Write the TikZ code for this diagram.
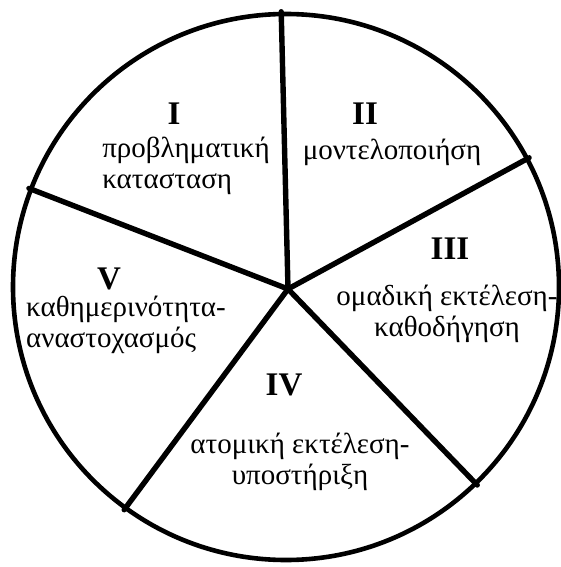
\documentclass[tikz,border=0pt]{standalone}
\usepackage{fontspec}
\setmainfont{Liberation Serif}
\usepackage{tikz}
\usetikzlibrary{positioning}

\begin{document}
\begin{tikzpicture}[
    x=1pt, y=-1pt,
    rim/.style={circle, draw, line width=4.6pt, minimum size=546pt, inner sep=0pt},
    spoke/.style={line width=5.4pt, line cap=round},
    numeral/.style={font=\fontsize{33}{33}\selectfont\bfseries, inner sep=0pt},
    phase/.style={font=\fontsize{29}{31}\selectfont, inner sep=0pt}
]

\useasboundingbox (0,0) rectangle (561,567);

\node[rim] (rim) at (286,287) {};
\coordinate (hub) at (288,289);

\draw[spoke] (hub) -- (rim.91.3);
\draw[spoke] (hub) -- (rim.28.9);
\draw[spoke] (hub) -- (rim.-46.5);
\draw[spoke] (hub) -- (rim.-126);
\draw[spoke] (hub) -- (rim.159.4);

\node[numeral] (n1) at (174,114) {I};
\node[phase, align=left] (t1) at (186,166) {προβληματική\\κατασταση};

\node[numeral] (n2) at (365,114) {II};
\node[phase] (t2) at (392,152) {μοντελοποιήση};

\node[numeral] (n3) at (450,249) {III};
\node[phase, align=center] (t3) at (447,314) {ομαδική εκτέλεση-\\καθοδήγηση};

\node[numeral] (n4) at (284,385) {IV};
\node[phase, align=center] (t4) at (300,462) {ατομική εκτέλεση-\\υποστήριξη};

\node[numeral] (n5) at (109,279) {V};
\node[phase, align=left] (t5) at (126,325) {καθημερινότητα-\\αναστοχασμός};

\end{tikzpicture}
\end{document}
